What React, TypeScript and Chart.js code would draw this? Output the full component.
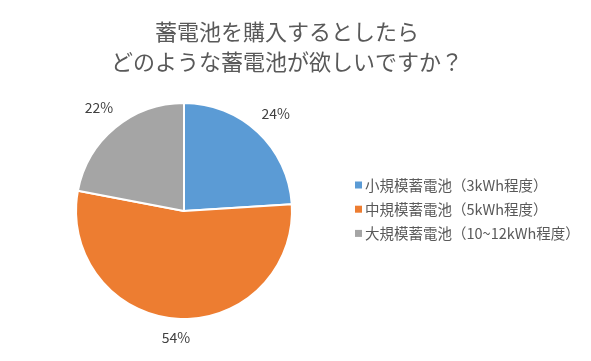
import { useEffect, useRef } from "react";
import { Chart, registerables } from "chart.js";

Chart.register(...registerables);

const titleLines = ["蓄電池を購入するとしたら", "どのような蓄電池が欲しいですか？"];
const categories = [
  "小規模蓄電池（3kWh程度）",
  "中規模蓄電池（5kWh程度）",
  "大規模蓄電池（10~12kWh程度）",
];
const shares = [24, 54, 22];
const colors = ["#5B9BD5", "#ED7D31", "#A5A5A5"];

const FONT = '"Noto Sans CJK JP", "Noto Sans", sans-serif';

const titlePlugin = {
  id: "customTitle",
  afterDraw(chart: any) {
    const ctx = chart.ctx;
    ctx.save();
    ctx.font = `22px ${FONT}`;
    ctx.fillStyle = "#595959";
    ctx.textAlign = "center";
    ctx.textBaseline = "middle";
    titleLines.forEach((line, i) => ctx.fillText(line, 287, 31.5 + i * 29.7));
    ctx.restore();
  },
};

const legendPlugin = {
  id: "customLegend",
  afterDraw(chart: any) {
    const ctx = chart.ctx;
    const labels: string[] = chart.data.labels;
    const bg: string[] = chart.data.datasets[0].backgroundColor;
    ctx.save();
    ctx.font = `14.5px ${FONT}`;
    ctx.textBaseline = "middle";
    ctx.textAlign = "left";
    labels.forEach((lab, i) => {
      const y = 185 + i * 24.2;
      ctx.fillStyle = bg[i];
      ctx.fillRect(355, y - 3.5, 7, 7);
      ctx.fillStyle = "#595959";
      ctx.fillText(lab, 365, y);
    });
    ctx.restore();
  },
};

const labelPlugin = {
  id: "sliceLabels",
  afterDatasetsDraw(chart: any) {
    const ctx = chart.ctx;
    const meta = chart.getDatasetMeta(0);
    const values: number[] = chart.data.datasets[0].data;
    ctx.save();
    ctx.font = `14px ${FONT}`;
    ctx.fillStyle = "#404040";
    ctx.textAlign = "center";
    ctx.textBaseline = "middle";
    meta.data.forEach((arc: any, i: number) => {
      const { x, y, startAngle, endAngle, outerRadius } = arc.getProps(
        ["x", "y", "startAngle", "endAngle", "outerRadius"],
        true
      );
      const mid = (startAngle + endAngle) / 2;
      const text = `${values[i]}%`;
      const hw = ctx.measureText(text).width / 2;
      const hh = 7;
      const d = outerRadius + 11 + hw * Math.abs(Math.cos(mid)) + hh * Math.abs(Math.sin(mid));
      ctx.fillText(text, x + d * Math.cos(mid), y + d * Math.sin(mid));
    });
    ctx.restore();
  },
};

export default function App() {
  const ref = useRef<HTMLCanvasElement | null>(null);
  useEffect(() => {
    if (!ref.current) return;
    const chart = new Chart(ref.current, {
      type: "pie",
      data: {
        labels: categories,
        datasets: [
          {
            data: shares,
            backgroundColor: colors,
            borderColor: "#ffffff",
            borderWidth: 2,
            radius: 108,
          } as any,
        ],
      },
      options: {
        animation: false,
        responsive: false,
        devicePixelRatio: 1,
        layout: { padding: { left: 64, right: 287, top: 91, bottom: 30 } },
        plugins: {
          legend: { display: false },
          title: { display: false },
          tooltip: { enabled: false },
        },
      },
      plugins: [titlePlugin, legendPlugin, labelPlugin],
    });
    return () => chart.destroy();
  }, []);
  return (
    <div style={{ position: "absolute", left: 0, top: 0, width: 591, height: 361, background: "#fff" }}>
      <canvas ref={ref} width={591} height={361} />
    </div>
  );
}
